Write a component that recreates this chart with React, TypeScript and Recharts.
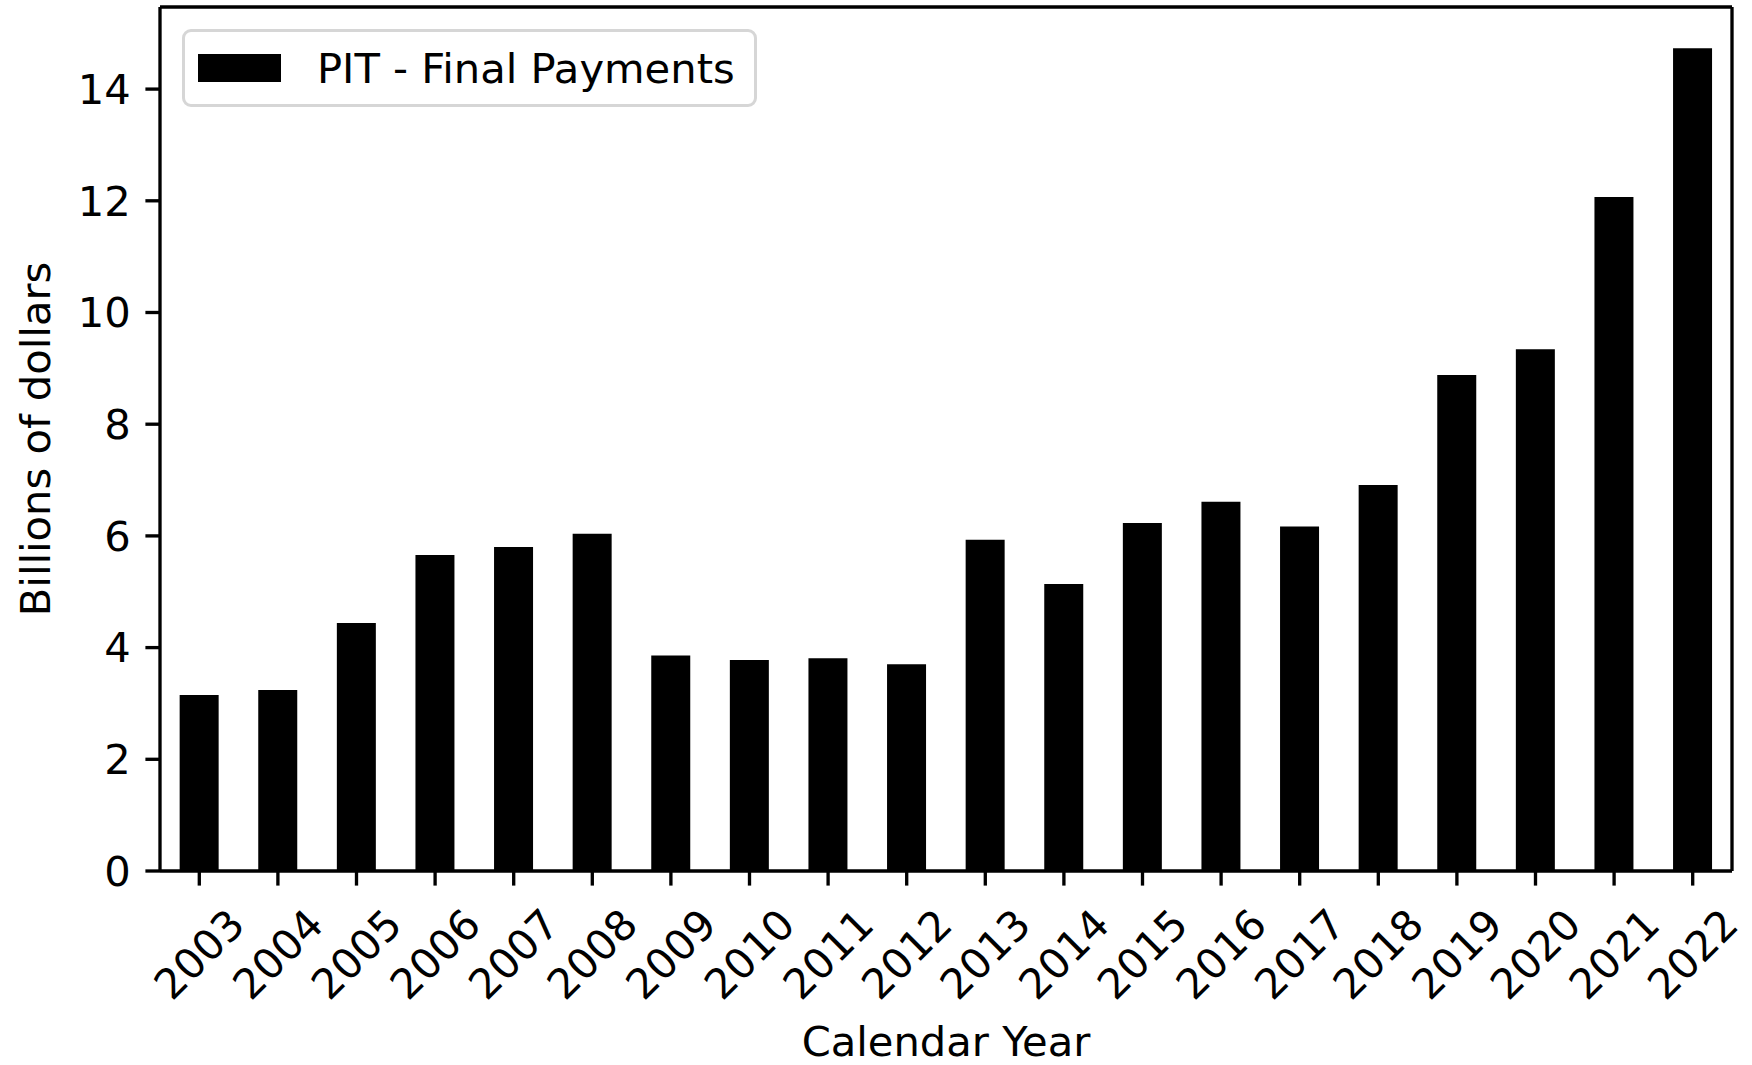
import { BarChart, Bar, XAxis, YAxis, Legend } from 'recharts';

const years = [
  '2003', '2004', '2005', '2006', '2007', '2008', '2009', '2010', '2011', '2012',
  '2013', '2014', '2015', '2016', '2017', '2018', '2019', '2020', '2021', '2022',
];
const finalPayments = [
  3.15, 3.24, 4.44, 5.66, 5.8, 6.04, 3.86, 3.78, 3.81, 3.7,
  5.93, 5.14, 6.23, 6.61, 6.17, 6.91, 8.88, 9.34, 12.07, 14.73,
];
const yTicks = [0, 2, 4, 6, 8, 10, 12, 14];
const seriesName = 'PIT - Final Payments';

const data = years.map((year, i) => ({ year, value: finalPayments[i] }));

const FONT = '"DejaVu Sans", sans-serif';
const FS = 41.67;
const LW = 3.33;

// rotated 45deg tick, bbox centred on the tick like matplotlib
function YearTick(props: any) {
  const { x, y, payload } = props;
  const cy = y + 54;
  return (
    <text
      x={x}
      y={cy}
      dy="0.35em"
      textAnchor="middle"
      fontFamily={FONT}
      fontSize={FS}
      fill="#000"
      transform={`rotate(-45, ${x}, ${cy})`}
    >
      {payload.value}
    </text>
  );
}

function LegendBox() {
  return (
    <div
      style={{
        boxSizing: 'border-box',
        width: 575,
        height: 78,
        border: '3px solid #d6d6d6',
        borderRadius: 9,
        background: 'rgba(255,255,255,0.8)',
        display: 'flex',
        alignItems: 'center',
        fontFamily: FONT,
        fontSize: FS,
        color: '#000',
      }}
    >
      <span style={{ display: 'inline-block', width: 83, height: 28, background: '#000', marginLeft: 13 }} />
      <span style={{ marginLeft: 36, whiteSpace: 'nowrap' }}>{seriesName}</span>
    </div>
  );
}

export default function App() {
  return (
    <div style={{ position: 'absolute', left: 0, top: 0, width: 1752, height: 1065, background: '#fff' }}>
      <BarChart
        width={1752}
        height={1065}
        data={data}
        margin={{ top: 6, right: 19, left: 0, bottom: 0 }}
        barCategoryGap="25%"
      >
        <XAxis
          dataKey="year"
          height={194}
          interval={0}
          tickSize={14.6}
          tickMargin={14.6}
          tick={<YearTick />}
          tickLine={{ stroke: '#000', strokeWidth: LW }}
          axisLine={{ stroke: '#000', strokeWidth: LW }}
          label={(p: any) => {
            const vb = p.viewBox;
            return (
              <text
                x={vb.x + vb.width / 2}
                y={1056}
                textAnchor="middle"
                fontFamily={FONT}
                fontSize={FS}
                fill="#000"
              >
                Calendar Year
              </text>
            );
          }}
        />
        <XAxis
          xAxisId="top"
          dataKey="year"
          orientation="top"
          height={1}
          tick={false}
          tickLine={false}
          axisLine={{ stroke: '#000', strokeWidth: LW }}
        />
        <YAxis
          width={160}
          domain={[0, 15.47]}
          ticks={yTicks}
          interval={0}
          tickSize={14.6}
          tickMargin={14.6}
          tick={{ fontFamily: FONT, fontSize: FS, fill: '#000' }}
          tickLine={{ stroke: '#000', strokeWidth: LW }}
          axisLine={{ stroke: '#000', strokeWidth: LW }}
          label={(p: any) => {
            const vb = p.viewBox;
            const cy = vb.y + vb.height / 2;
            return (
              <text
                x={50}
                y={cy}
                textAnchor="middle"
                fontFamily={FONT}
                fontSize={FS}
                fill="#000"
                transform={`rotate(-90, 50, ${cy})`}
              >
                Billions of dollars
              </text>
            );
          }}
        />
        <YAxis
          yAxisId="right"
          orientation="right"
          width={1}
          domain={[0, 15.47]}
          tick={false}
          tickLine={false}
          axisLine={{ stroke: '#000', strokeWidth: LW }}
        />
        <Legend
          layout="horizontal"
          verticalAlign="middle"
          align="center"
          wrapperStyle={{ top: 29, left: 182, width: 'auto' }}
          content={() => <LegendBox />}
        />
        <Bar dataKey="value" name={seriesName} fill="#000" isAnimationActive={false} />
      </BarChart>
    </div>
  );
}
